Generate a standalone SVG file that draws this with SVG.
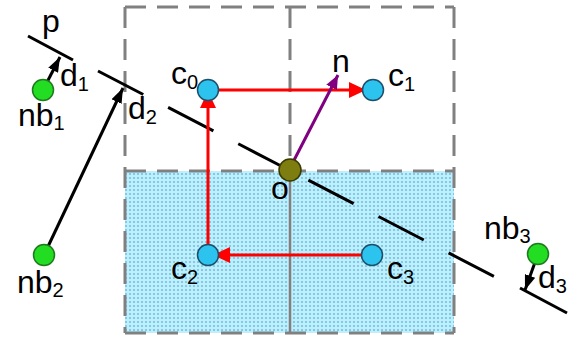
<svg xmlns="http://www.w3.org/2000/svg" width="577" height="338" viewBox="0 0 577 338">
<style>
.lbl{font-family:"Liberation Sans",Arial,sans-serif;font-size:32px;fill:#000}
.sub{font-size:20px}
.grid{stroke:#808080;stroke-width:3;fill:none;stroke-dasharray:21 11}
.cnode{fill:#2cc3ef;stroke:#1d4f6b;stroke-width:1.5}
.gnode{fill:#22dd22;stroke:#1f7a1f;stroke-width:1.5}
.blk{stroke:#000;stroke-width:3;fill:none}
.red{stroke:#ff0000;stroke-width:3;fill:none}
</style>
<defs>
<pattern id="dots" width="4" height="4" patternUnits="userSpaceOnUse">
<rect width="4" height="4" fill="#c4edfa"/>
<circle cx="2" cy="2" r="1.1" fill="#5ccaf0"/>
</pattern>
<marker id="ab" viewBox="0 0 15 11" refX="15" refY="5.5" markerWidth="15" markerHeight="11" markerUnits="userSpaceOnUse" orient="auto"><path d="M0,0 L15,5.5 L0,11 z" fill="#000"/></marker>
<marker id="ar" viewBox="0 0 17 16" refX="17" refY="8" markerWidth="17" markerHeight="16" markerUnits="userSpaceOnUse" orient="auto"><path d="M0,0 L17,8 L0,16 z" fill="#ff0000"/></marker>
<marker id="ap" viewBox="0 0 14 12" refX="14" refY="6" markerWidth="14" markerHeight="12" markerUnits="userSpaceOnUse" orient="auto"><path d="M0,0 L14,6 L0,12 z" fill="#800080"/></marker>
</defs>
<g id="grid">
<rect x="125" y="171" width="329" height="162" fill="url(#dots)"/>
<path class="grid" d="M125,7 H454"/>
<path class="grid" d="M454,7 V333"/>
<path class="grid" d="M125,333 H454"/>
<path class="grid" d="M125,7 V333"/>
<path class="grid" d="M125,171 H454"/>
<path class="grid" d="M290,7 V171"/>
<path d="M290,171 V333" stroke="#808080" stroke-width="2.5"/>
</g>
<g id="connectors">
<path class="blk" d="M98,71 L495,277" stroke-dasharray="51 28"/>
<path class="blk" d="M28,36 L73,60"/>
<path class="blk" d="M520,288 L567,313"/>
<path class="blk" d="M43,90 L60,57" marker-end="url(#ab)"/>
<path class="blk" d="M44,255 L123,88" marker-end="url(#ab)"/>
<path class="blk" d="M538,254 L525,290" marker-end="url(#ab)"/>
<path class="red" d="M208,255 L208,91" marker-end="url(#ar)"/>
<path class="red" d="M208,90 L366,90" marker-end="url(#ar)"/>
<path class="red" d="M372,255 L213,255" marker-end="url(#ar)"/>
<path d="M290,168 L338,75" stroke="#800080" stroke-width="3" fill="none" marker-end="url(#ap)"/>
</g>
<g id="c0"><circle class="cnode" cx="208" cy="90" r="10.5"/><text class="lbl" x="171" y="84">c<tspan class="sub" dy="5">0</tspan></text></g>
<g id="c1"><circle class="cnode" cx="373" cy="90" r="10.5"/><text class="lbl" x="388" y="86">c<tspan class="sub" dy="5">1</tspan></text></g>
<g id="c2"><circle class="cnode" cx="208" cy="255" r="10.5"/><text class="lbl" x="171" y="279">c<tspan class="sub" dy="5">2</tspan></text></g>
<g id="c3"><circle class="cnode" cx="372" cy="255" r="10.5"/><text class="lbl" x="387" y="279">c<tspan class="sub" dy="5">3</tspan></text></g>
<g id="o"><circle cx="290" cy="170" r="11" fill="#7d7d10" stroke="#3a3a00" stroke-width="1.5"/><text class="lbl" x="271" y="199">o</text></g>
<g id="n"><text class="lbl" x="332" y="72">n</text></g>
<g id="p"><text class="lbl" x="42" y="32">p</text></g>
<g id="nb1"><circle class="gnode" cx="43" cy="90" r="10.5"/><text class="lbl" x="18" y="126">nb<tspan class="sub" dy="4">1</tspan></text></g>
<g id="nb2"><circle class="gnode" cx="44" cy="255" r="10.5"/><text class="lbl" x="17" y="293">nb<tspan class="sub" dy="4">2</tspan></text></g>
<g id="nb3"><circle class="gnode" cx="538" cy="254" r="10.5"/><text class="lbl" x="484" y="239">nb<tspan class="sub" dy="4">3</tspan></text></g>
<g id="d1"><text class="lbl" x="60" y="86">d<tspan class="sub" dy="5">1</tspan></text></g>
<g id="d2"><text class="lbl" x="128" y="119">d<tspan class="sub" dy="5">2</tspan></text></g>
<g id="d3"><text class="lbl" x="538" y="288">d<tspan class="sub" dy="5">3</tspan></text></g>
</svg>
